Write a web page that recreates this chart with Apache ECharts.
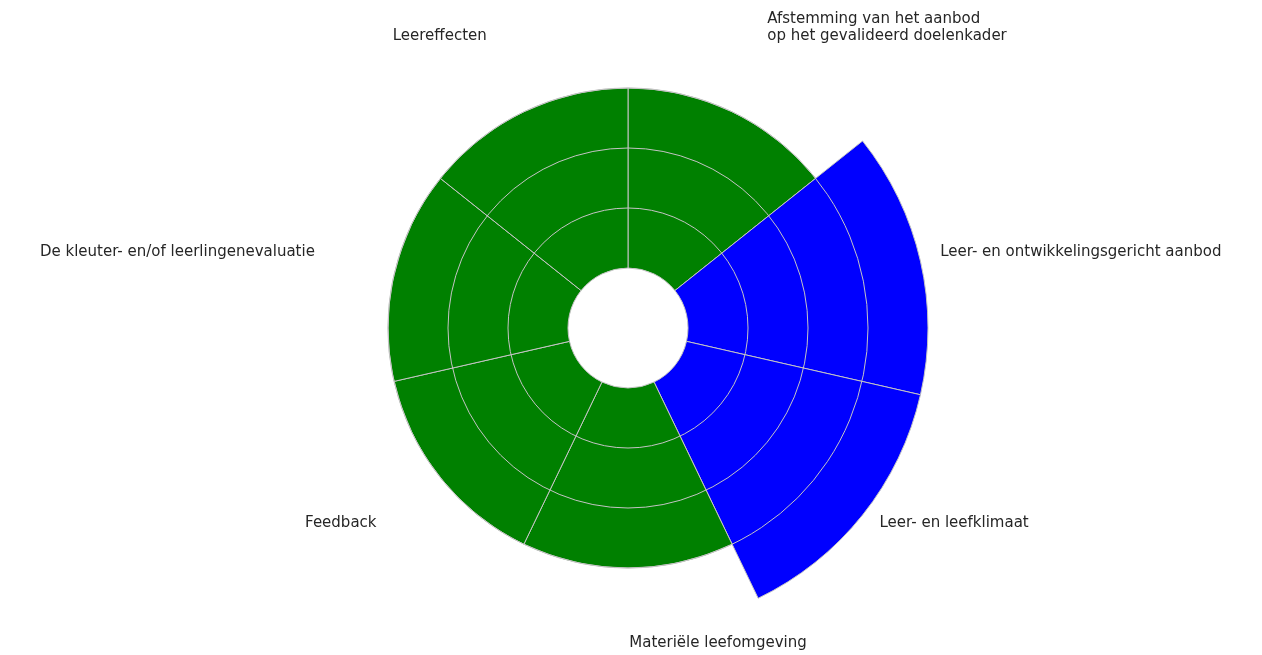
<!DOCTYPE html>
<html>
<head>
<meta charset="utf-8">
<script src="https://cdn.jsdelivr.net/npm/echarts@6/dist/echarts.min.js"></script>
<style>
  html, body { margin: 0; padding: 0; background: #fff; }
  #chart { width: 1262px; height: 655px; }
</style>
</head>
<body>
<div id="chart"></div>
<script>
// categories, clockwise from the top
var categories = [
  'Afstemming van het aanbod\nop het gevalideerd doelenkader',
  'Leer- en ontwikkelingsgericht aanbod',
  'Leer- en leefklimaat',
  'Materiële leefomgeving',
  'Feedback',
  'De kleuter- en/of leerlingenevaluatie',
  'Leereffecten'
];
var scores = [3, 4, 4, 3, 3, 3, 3];
var radiusTicks = [0, 1, 2, 3, 4];

// small nudges so the labels sit where matplotlib put them
// padding: [top, right, bottom, left]
var labelPad = {
  0: [0, 0, 0, 3],
  1: [0, 0, 0, 6],
  2: [-9, 0, 0, 6],
  3: [-7, 0, 0, 180], // bottom label is left-aligned on its tick
  4: [-9, 6, 0, 0],
  5: [0, 7, 0, 0],
  6: [0, 5, 0, 0]
};
// side labels are middle-aligned; an empty second line lifts them a bit
var raised = { 1: true, 5: true };

var chart = echarts.init(document.getElementById('chart'));

chart.setOption({
  animation: false,
  textStyle: { fontFamily: 'DejaVu Sans' },
  polar: {
    center: [628, 328],
    radius: [60, 300]
  },
  angleAxis: {
    type: 'category',
    data: categories.map(function (c, i) {
      var ts = { padding: labelPad[i] };
      if (raised[i]) ts.lineHeight = 12;
      return { value: raised[i] ? c + '\n' : c, textStyle: ts };
    }),
    startAngle: 90,
    clockwise: true,
    boundaryGap: true,
    axisLine: { show: false },
    axisTick: { show: false },
    splitLine: { show: false },
    axisLabel: {
      margin: 14,
      fontSize: 15,
      color: '#262626',
      lineHeight: 17
    }
  },
  radiusAxis: {
    type: 'value',
    min: radiusTicks[0],
    max: radiusTicks[radiusTicks.length - 1],
    interval: 1,
    z: 10,
    axisLine: { show: false },
    axisTick: { show: false },
    axisLabel: { show: false },
    splitLine: {
      show: true,
      lineStyle: {
        color: ['rgba(0,0,0,0)', '#c4c4c4', '#c4c4c4', '#c4c4c4', 'rgba(0,0,0,0)'],
        width: 1
      }
    }
  },
  series: [{
    type: 'bar',
    coordinateSystem: 'polar',
    barCategoryGap: '0%',
    data: scores,
    itemStyle: {
      color: function (p) { return p.value > 3 ? '#0000ff' : '#008000'; },
      borderColor: '#c4c4c4',
      borderWidth: 1
    }
  }]
});
</script>
</body>
</html>
